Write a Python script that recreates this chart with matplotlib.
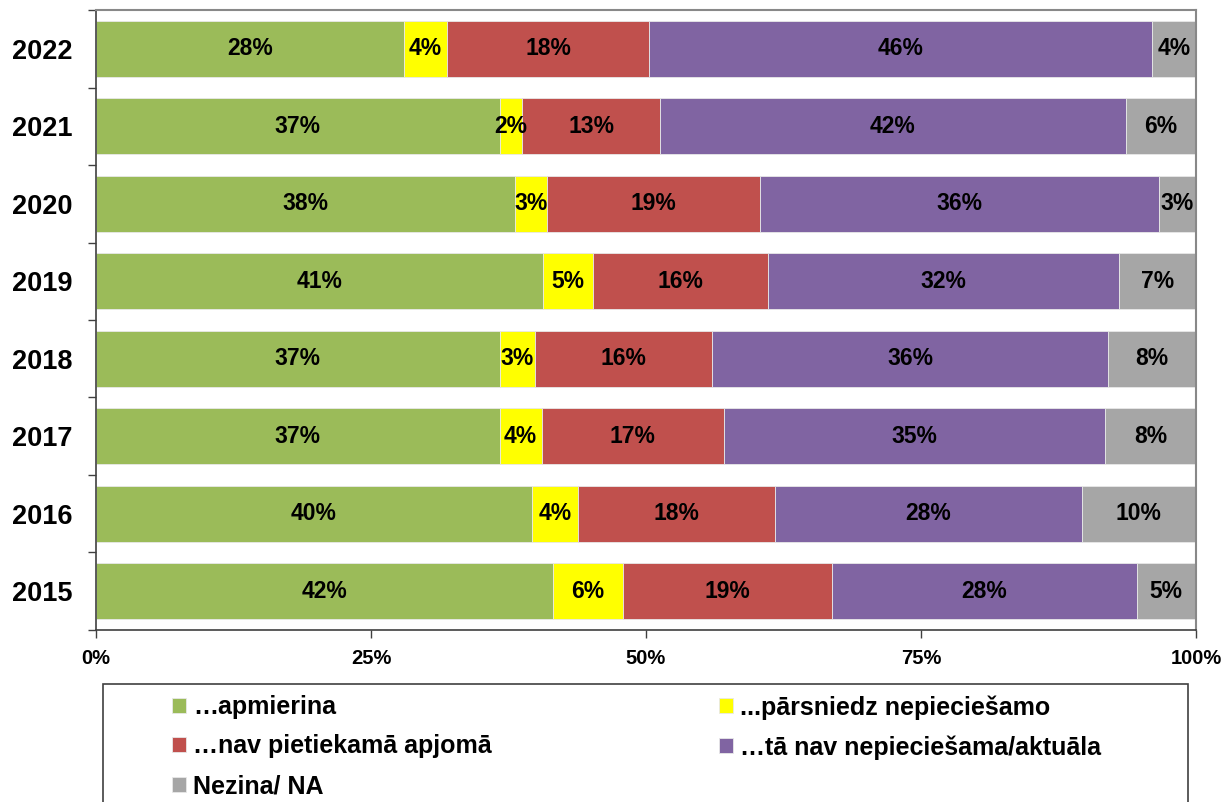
import matplotlib.pyplot as plt
from matplotlib.patches import Rectangle
import numpy as np

plt.rcParams['font.family'] = ['Liberation Sans', 'DejaVu Sans']
plt.rcParams['font.weight'] = 'bold'

years = ['2015', '2016', '2017', '2018', '2019', '2020', '2021', '2022']
green = [41.5, 39.6, 36.7, 36.7, 40.6, 38.1, 36.7, 28.0]
yellow = [6.4, 4.2, 3.8, 3.2, 4.6, 2.9, 2.0, 3.9]
red = [19.0, 17.9, 16.6, 16.1, 15.9, 19.4, 12.6, 18.4]
purple = [27.7, 27.9, 34.6, 36.0, 31.9, 36.2, 42.3, 45.7]
gray = [5.4, 10.4, 8.3, 8.0, 7.0, 3.4, 6.4, 4.0]

series = [green, yellow, red, purple, gray]
names = ['…apmierina', '...pārsniedz nepieciešamo', '…nav pietiekamā apjomā',
         '…tā nav nepieciešama/aktuāla', 'Nezina/ NA']
colors = ['#9BBB59', '#FFFF00', '#C0504D', '#8064A2', '#A6A6A6']

fig = plt.figure(figsize=(12.25, 8.02), dpi=100)
ax = fig.add_axes([0.0784, 0.2145, 0.8979, 0.773])

y = np.arange(len(years))
left = np.zeros(len(years))
handles = []
for vals, nm, col in zip(series, names, colors):
    vals = np.array(vals)
    b = ax.barh(y, vals, left=left, height=0.72, color=col, edgecolor='#e8e8e8',
                linewidth=0.6, label=nm)
    handles.append(b)
    for yi, l, v in zip(y, left, vals):
        ax.text(l + v / 2, yi, f'{v:.0f}%', ha='center', va='center',
                fontsize=16.5, fontweight='bold', color='black')
    left += vals

ax.set_xlim(0, 100)
ax.set_ylim(-0.5, len(years) - 0.5)
ax.set_xticks([0, 25, 50, 75, 100])
ax.set_xticklabels(['0%', '25%', '50%', '75%', '100%'], fontsize=14.5, fontweight='bold')
ax.set_yticks(y)
ax.set_yticklabels(years, fontsize=19.5, fontweight='bold')
ax.set_yticks(np.arange(-0.5, len(years)), minor=True)
ax.tick_params(axis='y', which='major', length=0, pad=17)
ax.tick_params(axis='y', which='minor', length=6, width=1, color='#404040')
ax.tick_params(axis='x', which='major', length=6, width=1, color='#404040', pad=8)

for s in ['top', 'right']:
    ax.spines[s].set_color('#888888')
    ax.spines[s].set_linewidth(1.5)
for s in ['left', 'bottom']:
    ax.spines[s].set_color('#404040')
    ax.spines[s].set_linewidth(1.2)

# legend frame running past the bottom edge
fig.patches.append(Rectangle((103 / 1225, -0.05), (1188 - 103) / 1225, (802 - 684) / 802 + 0.05,
                             transform=fig.transFigure, fill=False,
                             edgecolor='#404040', linewidth=1.2))
leg_kw = dict(loc='upper left', frameon=False, fontsize=18, handlelength=0.55,
              handleheight=0.55, handletextpad=0.3, labelspacing=0.62,
              borderpad=0, borderaxespad=0)
leg1 = fig.legend(handles=[handles[0], handles[2], handles[4]],
                  bbox_to_anchor=(172 / 1225, 1 - 695 / 802), **leg_kw)
leg2 = fig.legend(handles=[handles[1], handles[3]],
                  bbox_to_anchor=(719 / 1225, 1 - 695 / 802), **leg_kw)
for lg in (leg1, leg2):
    for t in lg.get_texts():
        t.set_fontweight('bold')

fig.savefig('out.png', dpi=100)
